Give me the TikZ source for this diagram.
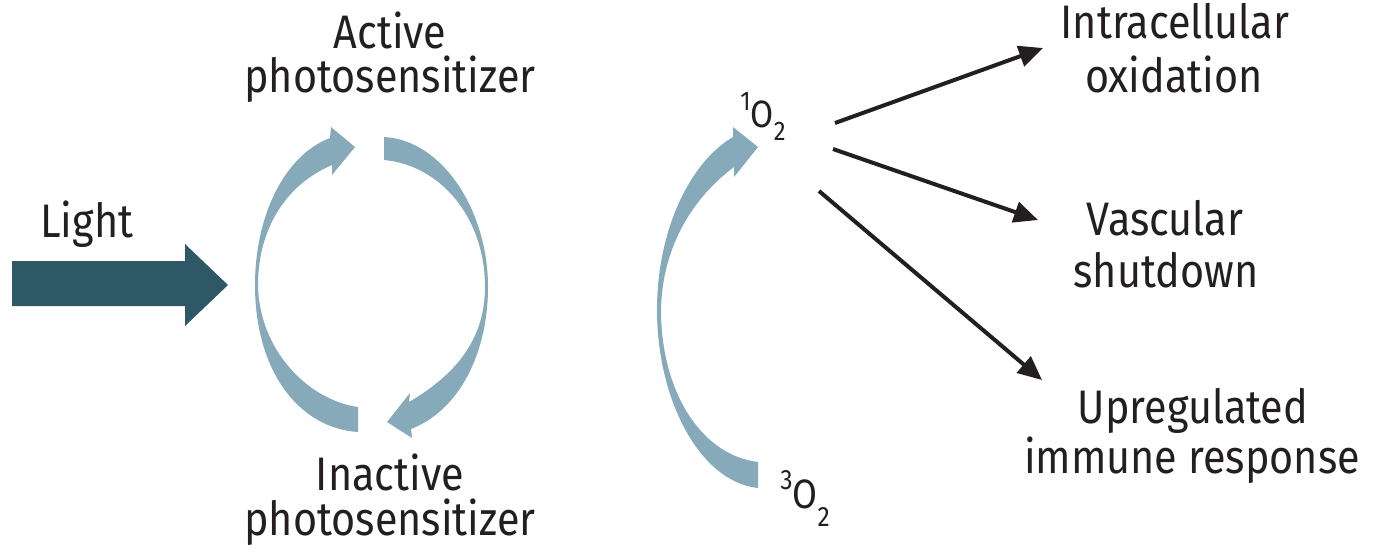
\documentclass[tikz,border=0pt]{standalone}
\usepackage{fontspec}
\setmainfont{Fira Sans}[FakeStretch=0.88]
\usetikzlibrary{arrows.meta}
\definecolor{cyclecol}{HTML}{86AABA}
\definecolor{lightcol}{HTML}{2F5866}
\definecolor{txtcol}{HTML}{231F20}
\tikzset{
  lbl/.style={anchor=base, inner sep=0pt, text=txtcol, font=\fontsize{23.5}{28}\selectfont},
  cyc/.style={fill=cyclecol, draw=none},
  blk/.style={draw=txtcol, line width=2pt, -{Triangle[length=12pt,width=10.5pt]}, shorten >=0pt}
}
\begin{document}
\begin{tikzpicture}[x=0.5pt,y=-0.5pt]
\useasboundingbox (0,0) rectangle (1375,553);

% Light arrow
\fill[lightcol] (12,261) -- (185,261) -- (185,244) -- (228,285) -- (185,326) -- (185,306) -- (12,306) -- cycle;
\node[lbl, anchor=base west] (light) at (40,237) {Light};

% Left cycle arrow (upwards)
\fill[cyc] (330,138) .. controls (285,155) and (255,215) .. (255,285)
  .. controls (255,370) and (298,428) .. (358,432)
  -- (358,407)
  .. controls (308,400) and (259,350) .. (258,285)
  .. controls (258,230) and (285,185) .. (332,165)
  -- (332,175) -- (355,147) -- (331,127) -- cycle;

% Right cycle arrow (downwards)
\fill[cyc] (384,137) .. controls (442,140) and (488,210) .. (488,287)
  .. controls (488,352) and (460,410) .. (411,429)
  -- (412,438) -- (387,422) -- (410,393) -- (409,402)
  .. controls (455,375) and (485,340) .. (485,287)
  .. controls (485,217) and (440,165) .. (384,160) -- cycle;

% O2 arrow
\fill[cyc] (758,488) .. controls (700,482) and (657,400) .. (657,310)
  .. controls (657,230) and (690,162) .. (733,137)
  -- (733,127) -- (758,147) -- (734,177) -- (734,167)
  .. controls (690,200) and (662,250) .. (661,310)
  .. controls (661,390) and (700,455) .. (758,462) -- cycle;

% labels
\node[lbl] (act1) at (390,48) {Active};
\node[lbl] (act2) at (390,92) {photosensitizer};
\node[lbl] (ina1) at (390,490) {Inactive};
\node[lbl] (ina2) at (390,535) {photosensitizer};

\node[anchor=base west, inner sep=0pt, text=txtcol] (o1) at (740,127)
  {\fontsize{13.5}{14}\selectfont\raisebox{8.5pt}{1}\fontsize{19}{20}\selectfont O\fontsize{13.5}{14}\selectfont\raisebox{-6.5pt}{2}};
\node[anchor=base west, inner sep=0pt, text=txtcol] (o3) at (780,508)
  {\fontsize{14}{14}\selectfont\raisebox{9.5pt}{3}\fontsize{20.5}{20}\selectfont O\fontsize{14}{14}\selectfont\raisebox{-9pt}{2}};

\node[lbl] (ic1) at (1175,38) {Intracellular};
\node[lbl] (ic2) at (1174,92) {oxidation};
\node[lbl] (vs1) at (1165,235) {Vascular};
\node[lbl] (vs2) at (1166,287) {shutdown};
\node[lbl] (up1) at (1193,423) {Upregulated};
\node[lbl] (up2) at (1192,473) {immune response};

% black arrows
\coordinate (s1) at (835,123);
\coordinate (s2) at (833,149);
\coordinate (s3) at (819,191);
\coordinate (t1) at (1043,48);
\coordinate (t2) at (1038,220);
\coordinate (t3) at (1042,380);
\draw[blk] (s1) -- (t1);
\draw[blk] (s2) -- (t2);
\draw[blk] (s3) -- (t3);
\end{tikzpicture}
\end{document}
